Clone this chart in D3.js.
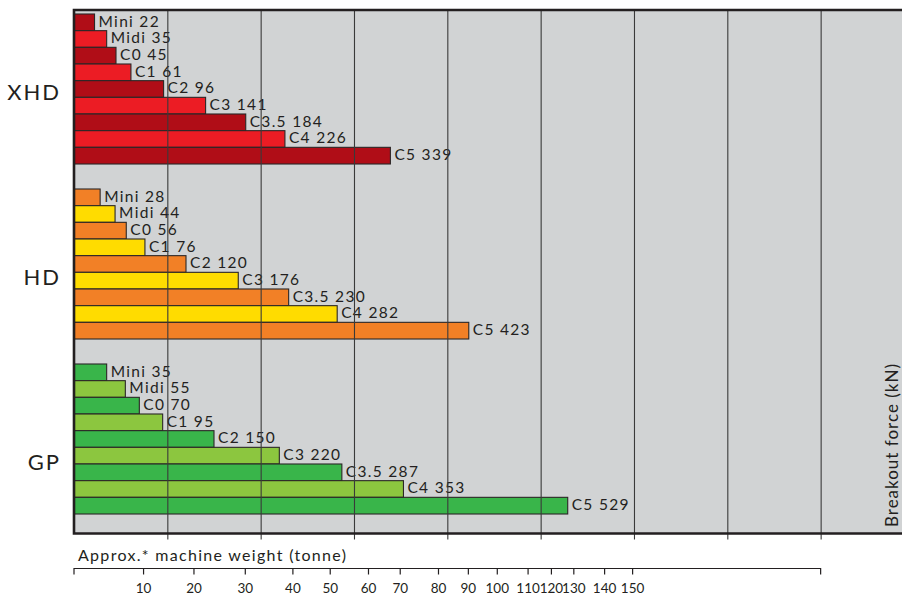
<!DOCTYPE html>
<html>
<head>
<meta charset="utf-8">
<script src="https://cdn.jsdelivr.net/npm/d3@7"></script>
<style>
  html, body { margin: 0; padding: 0; background: #fff; }
  svg { display: block; font-family: Lato, "Open Sans", sans-serif; }
</style>
</head>
<body>
<svg id="chart" width="902" height="597"></svg>
<script>
// ---- data ----
const groups = ["XHD", "HD", "GP"];
const models = ["Mini", "Midi", "C0", "C1", "C2", "C3", "C3.5", "C4", "C5"];
const xhdValues = [22, 35, 45, 61, 96, 141, 184, 226, 339];
const hdValues  = [28, 44, 56, 76, 120, 176, 230, 282, 423];
const gpValues  = [35, 55, 70, 95, 150, 220, 287, 353, 529];
const gridTicks = [100, 200, 300, 400, 500, 600, 700, 800];
// secondary axis: machine weight (tonne) and the breakout force (kN) it lines up with
const tonneTicks = [10, 20, 30, 40, 50, 60, 70, 80, 90, 100, 110, 120, 130, 140, 150];
const tonneAtKN  = [74, 128, 183, 234, 274, 315, 349, 390, 422, 453, 486, 511, 535, 568, 598];
const xTitle = "Approx.* machine weight (tonne)";
const yTitle = "Breakout force (kN)";

const palette = {
  XHD: ["#b00d17", "#ec1c24"],
  HD:  ["#f28026", "#ffdc00"],
  GP:  ["#39b54a", "#8cc63f"]
};
const valuesByGroup = { XHD: xhdValues, HD: hdValues, GP: gpValues };

// ---- layout ----
const W = 902, H = 597;
const plotLeft = 74, plotTop = 10, plotBottom = 533.5;
const svg = d3.select("#chart");

const x = d3.scaleLinear().domain([0, 1000]).range([plotLeft, plotLeft + 933.3]);
const yGroup = d3.scaleBand().domain(groups).range([14, 514]).paddingInner(1 / 7).paddingOuter(0);
const yModel = d3.scaleBand().domain(models).range([0, yGroup.bandwidth()]).padding(0);
const yGroupLabel = d3.scalePoint().domain(groups).range([100, 470]);

// background
svg.append("rect")
  .attr("x", plotLeft).attr("y", plotTop)
  .attr("width", W - plotLeft).attr("height", plotBottom - plotTop)
  .attr("fill", "#d1d3d4");

// bars
const gEl = svg.selectAll("g.group").data(groups).join("g")
  .attr("class", "group")
  .attr("transform", d => `translate(0,${yGroup(d)})`);

gEl.selectAll("rect.bar")
  .data(g => models.map((m, i) => ({ g, m, i, v: valuesByGroup[g][i] })))
  .join("rect")
  .attr("class", "bar")
  .attr("x", x(0))
  .attr("y", d => yModel(d.m))
  .attr("width", d => x(d.v) - x(0))
  .attr("height", yModel.bandwidth())
  .attr("fill", d => palette[d.g][d.i % 2])
  .attr("stroke", "#2b2727")
  .attr("stroke-width", 1.1);

// gridlines (over bars) with ticks below the bottom border
const gridAxis = d3.axisBottom(x).tickValues(gridTicks).tickSize(6).tickFormat("");
const grid = svg.append("g").attr("transform", `translate(0,${plotBottom})`).call(gridAxis);
grid.select(".domain").remove();
grid.selectAll(".tick line")
  .attr("y1", -(plotBottom - plotTop)).attr("y2", 6)
  .attr("stroke", "#3a3a3a").attr("stroke-width", 1.1);

// labels
gEl.selectAll("text.lbl")
  .data(g => models.map((m, i) => ({ g, m, i, v: valuesByGroup[g][i] })))
  .join("text")
  .attr("class", "lbl")
  .attr("x", d => x(d.v) + 4)
  .attr("y", d => yModel(d.m) + 12.5)
  .attr("font-size", 15.5)
  .attr("letter-spacing", 1.3)
  .attr("fill", "#231f20")
  .text(d => `${d.m} ${d.v}`);

// group labels
svg.selectAll("text.glabel").data(groups).join("text")
  .attr("class", "glabel")
  .attr("x", 61)
  .attr("y", d => yGroupLabel(d))
  .attr("text-anchor", "end")
  .attr("font-size", 22)
  .attr("letter-spacing", 2)
  .attr("fill", "#231f20")
  .text(d => d);

// plot border (top, left, bottom)
svg.append("path")
  .attr("d", `M${W},${plotTop}H${plotLeft}V${plotBottom}H${W}`)
  .attr("fill", "none").attr("stroke", "#231f20").attr("stroke-width", 2.6);

// right axis title (rotated, at the window edge)
svg.append("text")
  .attr("transform", `translate(898,527) rotate(-90)`)
  .attr("font-size", 17)
  .attr("letter-spacing", 1)
  .attr("fill", "#231f20")
  .text(yTitle);

// secondary tonne axis
const tonneScale = d3.scaleLinear().domain(tonneTicks).range(tonneAtKN.map(v => x(v)));
const axisY = 568.5;
svg.append("path")
  .attr("d", `M${x(0)},${axisY + 6}V${axisY}H${x(800)}V${axisY + 6}`)
  .attr("fill", "none").attr("stroke", "#231f20").attr("stroke-width", 1.2);
const tAxis = svg.append("g").attr("transform", `translate(0,${axisY})`)
  .call(d3.axisBottom(tonneScale).tickValues(tonneTicks).tickSize(6).tickSizeOuter(0).tickPadding(9));
tAxis.select(".domain").remove();
tAxis.selectAll(".tick line").attr("stroke", "#231f20").attr("stroke-width", 1.2);
tAxis.selectAll(".tick text")
  .attr("font-family", "Lato, 'Open Sans', sans-serif")
  .attr("font-size", 13.5).attr("fill", "#231f20");

svg.append("text")
  .attr("x", 78).attr("y", 561)
  .attr("font-size", 16)
  .attr("letter-spacing", 1.3)
  .attr("fill", "#231f20")
  .text(xTitle);
</script>
</body>
</html>
